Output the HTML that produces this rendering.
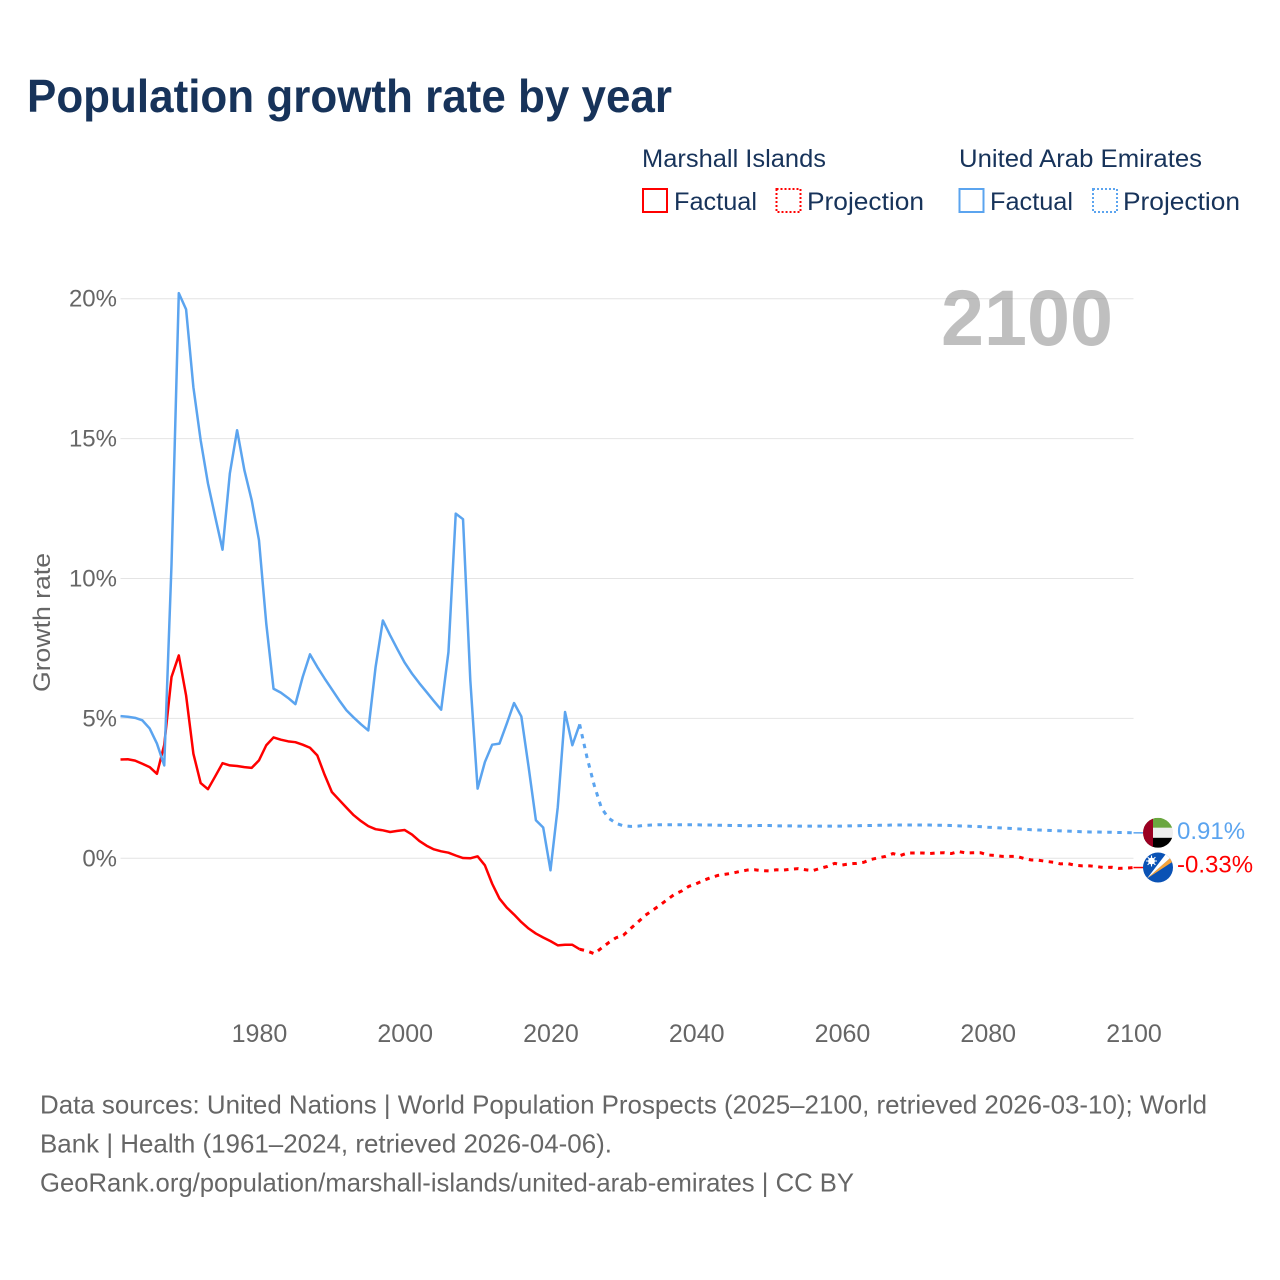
<!DOCTYPE html>
<html lang="en">
<head>
<meta charset="utf-8">
<title>Population growth rate by year</title>
<style>
html,body{margin:0;padding:0;background:#fff;width:1280px;height:1280px;overflow:hidden}
svg{display:block}
text{font-family:"Liberation Sans",sans-serif}
</style>
</head>
<body>
<svg id="chart" xmlns="http://www.w3.org/2000/svg" width="1280" height="1280" viewBox="0 0 1280 1280">
  <defs>
    <clipPath id="clip-uae"><circle cx="0" cy="0" r="15"/></clipPath>
    <clipPath id="clip-mh"><circle cx="0" cy="0" r="15"/></clipPath>
  </defs>
  <rect width="1280" height="1280" fill="#fff"/>
  <text x="27" y="112" font-size="46" font-weight="700" fill="#17335a" textLength="645" lengthAdjust="spacingAndGlyphs">Population growth rate by year</text>

  <g font-size="25" fill="#17335a">
    <text x="642" y="167" textLength="184" lengthAdjust="spacingAndGlyphs">Marshall Islands</text>
    <text x="959" y="167" textLength="243" lengthAdjust="spacingAndGlyphs">United Arab Emirates</text>
    <g>
      <rect x="643" y="189" width="24" height="23" fill="none" stroke="#ff0000" stroke-width="2"/>
      <text x="674" y="210" textLength="83" lengthAdjust="spacingAndGlyphs">Factual</text>
    </g>
    <g>
      <rect x="776.5" y="189" width="24" height="23" fill="none" stroke="#ff0000" stroke-width="2" stroke-dasharray="2 2"/>
      <text x="807" y="210" textLength="117" lengthAdjust="spacingAndGlyphs">Projection</text>
    </g>
    <g>
      <rect x="959.5" y="189" width="24" height="23" fill="none" stroke="#5ba4ef" stroke-width="2"/>
      <text x="990" y="210" textLength="83" lengthAdjust="spacingAndGlyphs">Factual</text>
    </g>
    <g>
      <rect x="1093" y="189" width="24" height="23" fill="none" stroke="#5ba4ef" stroke-width="2" stroke-dasharray="2 2"/>
      <text x="1123" y="210" textLength="117" lengthAdjust="spacingAndGlyphs">Projection</text>
    </g>
  </g>

  <g id="grid-layer"></g>
  <g id="y-tick-layer"></g>
  <g id="x-tick-layer"></g>
  <text transform="translate(50,692) rotate(-90)" font-size="24" fill="#666" textLength="139" lengthAdjust="spacingAndGlyphs">Growth rate</text>
  <text x="941" y="345" font-size="79" font-weight="700" fill="#808080" fill-opacity="0.5" textLength="172" lengthAdjust="spacingAndGlyphs">2100</text>

  <g id="series-layer"></g>

  <g id="flag-uae">
    <g clip-path="url(#clip-uae)">
      <rect x="-15" y="-15" width="30" height="10" fill="#6aa63f"/>
      <rect x="-15" y="-5" width="30" height="10" fill="#eeeeee"/>
      <rect x="-15" y="5" width="30" height="10" fill="#000"/>
      <rect x="-15" y="-15" width="10" height="30" fill="#9b0022"/>
    </g>
  </g>
  <g id="flag-mh">
    <g clip-path="url(#clip-mh)">
      <rect x="-15" y="-15" width="30" height="30" fill="#0a52b5"/>
      <polygon points="-11,11 15,-12 15,-6" fill="#f7a43a"/>
      <polygon points="-11,11 9,-15 15,-12" fill="#fff"/>
      <circle cx="-6.5" cy="-6.5" r="3.4" fill="#fff"/>
      <path d="M-6.5 -12 L-6.5 -1 M-12 -6.5 L-1 -6.5 M-10.4 -10.4 L-2.6 -2.6 M-10.4 -2.6 L-2.6 -10.4" stroke="#fff" stroke-width="1.1"/>
    </g>
  </g>
  <g id="end-label-layer"></g>

  <g font-size="26" fill="#666">
    <text x="40" y="1113.5" textLength="1167" lengthAdjust="spacingAndGlyphs">Data sources: United Nations | World Population Prospects (2025–2100, retrieved 2026-03-10); World</text>
    <text x="40" y="1152.5" textLength="572" lengthAdjust="spacingAndGlyphs">Bank | Health (1961–2024, retrieved 2026-04-06).</text>
    <text x="40" y="1191.5" textLength="814" lengthAdjust="spacingAndGlyphs">GeoRank.org/population/marshall-islands/united-arab-emirates | CC BY</text>
  </g>
</svg>
<script>
const firstFactualYear = 1961;
const firstProjectionYear = 2025;
const yTickValues = [0, 5, 10, 15, 20];
const xTickYears = [1980, 2000, 2020, 2040, 2060, 2080, 2100];

const uaeFactual = [5.08,5.06,5.02,4.93,4.64,4.1,3.32,10.5,20.2,19.62,16.84,14.94,13.4,12.2,11.03,13.75,15.3,13.87,12.8,11.37,8.39,6.06,5.92,5.73,5.51,6.48,7.29,6.84,6.43,6.04,5.65,5.29,5.03,4.79,4.57,6.83,8.5,7.97,7.47,6.99,6.6,6.26,5.94,5.62,5.31,7.37,12.32,12.12,6.36,2.49,3.44,4.06,4.1,4.81,5.55,5.07,3.26,1.36,1.1,-0.43,1.83,5.23,4.04,4.79];
const uaeProjection = [3.62,2.61,1.79,1.43,1.25,1.16,1.14,1.15,1.18,1.19,1.2,1.2,1.2,1.2,1.2,1.2,1.19,1.19,1.18,1.18,1.17,1.17,1.16,1.17,1.17,1.17,1.16,1.16,1.16,1.15,1.15,1.15,1.15,1.15,1.15,1.15,1.16,1.16,1.17,1.17,1.18,1.18,1.19,1.19,1.19,1.19,1.19,1.19,1.18,1.18,1.17,1.16,1.15,1.14,1.13,1.11,1.1,1.08,1.07,1.05,1.04,1.02,1.01,1.0,0.99,0.98,0.97,0.96,0.95,0.94,0.94,0.93,0.93,0.92,0.92,0.91];
const marshallFactual = [3.53,3.54,3.49,3.38,3.26,3.02,4.05,6.48,7.25,5.82,3.74,2.69,2.47,2.93,3.4,3.32,3.3,3.26,3.23,3.5,4.04,4.32,4.24,4.18,4.15,4.06,3.95,3.68,2.99,2.37,2.09,1.81,1.54,1.33,1.15,1.04,1.0,0.94,0.98,1.01,0.85,0.62,0.45,0.32,0.25,0.2,0.1,0.01,0,0.07,-0.25,-0.91,-1.44,-1.76,-2.01,-2.28,-2.51,-2.69,-2.83,-2.96,-3.11,-3.09,-3.09,-3.25];
const marshallProjection = [-3.31,-3.41,-3.21,-3.01,-2.84,-2.75,-2.51,-2.28,-2.04,-1.86,-1.68,-1.48,-1.29,-1.17,-1,-0.91,-0.79,-0.69,-0.61,-0.57,-0.53,-0.47,-0.42,-0.41,-0.44,-0.45,-0.41,-0.42,-0.39,-0.37,-0.41,-0.44,-0.36,-0.29,-0.18,-0.24,-0.2,-0.18,-0.14,-0.04,0.02,0.07,0.17,0.1,0.19,0.19,0.19,0.17,0.19,0.2,0.17,0.24,0.19,0.2,0.2,0.12,0.1,0.07,0.07,0.07,-0.01,-0.06,-0.07,-0.11,-0.14,-0.2,-0.19,-0.25,-0.27,-0.27,-0.3,-0.33,-0.32,-0.36,-0.35,-0.33];

const NS = 'http://www.w3.org/2000/svg';
const BLUE = '#5ba4ef';
const RED = '#ff0000';

function xScale(year) {
  return 120.5 + (year - 1961) * (1133.5 - 120.5) / (2100 - 1961);
}
function yScale(value) {
  return 858.3 - value * 27.98;
}
function seriesPoints(startYear, values) {
  return values.map(function (v, i) {
    return xScale(startYear + i).toFixed(2) + ',' + yScale(v).toFixed(2);
  });
}
function makeLine(points, color, dash) {
  const line = document.createElementNS(NS, 'polyline');
  line.setAttribute('points', points.join(' '));
  line.setAttribute('fill', 'none');
  line.setAttribute('stroke', color);
  line.setAttribute('stroke-width', dash ? '3' : '2.5');
  line.setAttribute('stroke-linejoin', 'round');
  if (dash) line.setAttribute('stroke-dasharray', dash);
  return line;
}

const gridLayer = document.getElementById('grid-layer');
const yTickLayer = document.getElementById('y-tick-layer');
const xTickLayer = document.getElementById('x-tick-layer');
const seriesLayer = document.getElementById('series-layer');
const endLabelLayer = document.getElementById('end-label-layer');

yTickValues.forEach(function (v) {
  const gridline = document.createElementNS(NS, 'line');
  
  
  gridline.setAttribute('x1', xScale(1961));
  gridline.setAttribute('x2', xScale(2100));
  gridline.setAttribute('y1', yScale(v));
  gridline.setAttribute('y2', yScale(v));
  gridline.setAttribute('stroke', '#e4e4e4');
  gridline.setAttribute('stroke-width', '1');
  gridLayer.appendChild(gridline);

  const tick = document.createElementNS(NS, 'text');
  
  
  tick.setAttribute('x', 117);
  tick.setAttribute('y', yScale(v) + 8);
  tick.setAttribute('text-anchor', 'end');
  tick.setAttribute('font-size', '24');
  tick.setAttribute('fill', '#666');
  tick.textContent = v + '%';
  yTickLayer.appendChild(tick);
});

xTickYears.forEach(function (year) {
  const tick = document.createElementNS(NS, 'text');
  
  
  tick.setAttribute('x', xScale(year) + 0.5);
  tick.setAttribute('y', 1042);
  tick.setAttribute('text-anchor', 'middle');
  tick.setAttribute('font-size', '25');
  tick.setAttribute('fill', '#666');
  tick.textContent = year;
  xTickLayer.appendChild(tick);
});

const uaeFactualPts = seriesPoints(firstFactualYear, uaeFactual);
const uaeProjectionPts = seriesPoints(firstProjectionYear, uaeProjection);
const marshallFactualPts = seriesPoints(firstFactualYear, marshallFactual);
const marshallProjectionPts = seriesPoints(firstProjectionYear, marshallProjection);

const marshallFactualLine = makeLine(marshallFactualPts, RED);


seriesLayer.appendChild(marshallFactualLine);

const marshallProjectionLine = makeLine([marshallFactualPts[marshallFactualPts.length - 1]].concat(marshallProjectionPts), RED, '4.5 5.5');


seriesLayer.appendChild(marshallProjectionLine);

const uaeFactualLine = makeLine(uaeFactualPts, BLUE);


seriesLayer.appendChild(uaeFactualLine);

const uaeProjectionLine = makeLine([uaeFactualPts[uaeFactualPts.length - 1]].concat(uaeProjectionPts), BLUE, '4.5 5.5');


seriesLayer.appendChild(uaeProjectionLine);

const uaeLast = uaeProjection[uaeProjection.length - 1];
const marshallLast = marshallProjection[marshallProjection.length - 1];

const uaeConnector = document.createElementNS(NS, 'line');


uaeConnector.setAttribute('x1', xScale(2100));
uaeConnector.setAttribute('x2', xScale(2100) + 10);
uaeConnector.setAttribute('y1', yScale(uaeLast));
uaeConnector.setAttribute('y2', yScale(uaeLast));
uaeConnector.setAttribute('stroke', BLUE);
uaeConnector.setAttribute('stroke-width', '1.5');
seriesLayer.appendChild(uaeConnector);

const marshallConnector = document.createElementNS(NS, 'line');


marshallConnector.setAttribute('x1', xScale(2100));
marshallConnector.setAttribute('x2', xScale(2100) + 10);
marshallConnector.setAttribute('y1', yScale(marshallLast));
marshallConnector.setAttribute('y2', yScale(marshallLast));
marshallConnector.setAttribute('stroke', RED);
marshallConnector.setAttribute('stroke-width', '1.5');
seriesLayer.appendChild(marshallConnector);

document.getElementById('flag-uae').setAttribute('transform', 'translate(1158,' + yScale(uaeLast).toFixed(1) + ')');
document.getElementById('flag-mh').setAttribute('transform', 'translate(1158,' + yScale(marshallLast).toFixed(1) + ')');

const uaeEndLabel = document.createElementNS(NS, 'text');


uaeEndLabel.setAttribute('x', 1177);
uaeEndLabel.setAttribute('y', yScale(uaeLast) + 6);
uaeEndLabel.setAttribute('font-size', '24');
uaeEndLabel.setAttribute('fill', BLUE);
uaeEndLabel.textContent = uaeLast.toFixed(2) + '%';
endLabelLayer.appendChild(uaeEndLabel);

const marshallEndLabel = document.createElementNS(NS, 'text');


marshallEndLabel.setAttribute('x', 1177);
marshallEndLabel.setAttribute('y', yScale(marshallLast) + 5);
marshallEndLabel.setAttribute('font-size', '24');
marshallEndLabel.setAttribute('fill', RED);
marshallEndLabel.textContent = marshallLast.toFixed(2) + '%';
endLabelLayer.appendChild(marshallEndLabel);
</script>
</body>
</html>
